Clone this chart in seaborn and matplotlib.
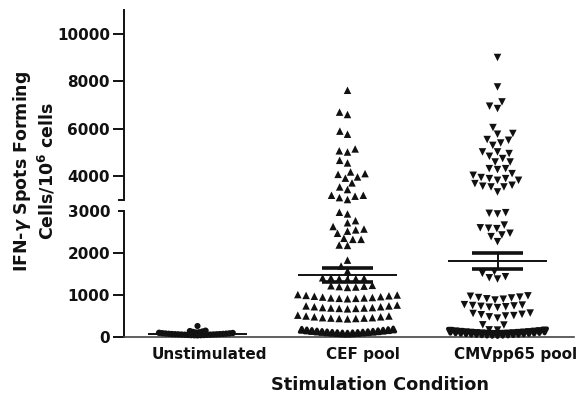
import matplotlib
matplotlib.use("Agg")
import matplotlib.pyplot as plt
import matplotlib.patheffects as pe
import pandas as pd
import seaborn as sns

sns.set_theme(style="ticks")
plt.rcParams['font.family'] = ['DejaVu Sans']
plt.rcParams['font.weight'] = 'bold'

conditions = ["Unstimulated", "CEF pool", "CMVpp65 pool"]

# values (spot forming cells / 10^6 cells)
unstim_main = [262]
unstim_band = [40, 42, 44, 46, 48, 50, 52, 54, 56, 58, 60, 62, 64, 66, 68, 70,
               73, 76, 79, 82, 86, 90, 95, 100, 106, 112, 120, 130, 140, 150]

cef_main = [7620, 6700, 6600, 5900, 5770, 5150, 5070, 5020, 4670, 4560,
            4180, 4110, 4080, 3970, 3920, 3720, 3550, 3440,
            3200, 3200, 3160, 3100, 3020,
            2970, 2930, 2770, 2720, 2630, 2570, 2550, 2520, 2470,
            2350, 2325, 2325, 2190, 2180, 1830, 1690, 1570,
            1410, 1390, 1380, 1400, 1390, 1410,
            1210, 1190, 1200, 1230, 1180, 1220,
            1000, 980, 960, 940, 930, 920, 910, 920, 930, 950, 970, 990, 1010,
            740, 720, 700, 690, 680, 670, 680, 690, 700, 720, 740, 760,
            500, 480, 460, 450, 440, 430, 440, 450, 460, 480, 500, 520]
cef_band = [80, 84, 88, 92, 96, 100, 105, 110, 115, 120, 125, 131, 137, 143,
            150, 157, 164, 172, 180]

cmv_main = [9000, 7760, 7130, 6950, 6850, 6050, 5800, 5770, 5545, 5515,
            5400, 5300, 5025, 5025, 4955, 4840, 4745, 4600, 4600,
            4320, 4320, 4280, 4110, 4040, 3945, 3900, 3900, 3830, 3830,
            3690, 3620, 3580, 3550, 3550, 3340,
            2960, 2945, 2930, 2665, 2600, 2590, 2580, 2470, 2430, 2390, 2270,
            1555, 1515, 1435, 1410, 1380,
            980, 950, 930, 900, 880, 910, 940, 970,
            770, 750, 730, 710, 700, 720, 740, 760,
            570, 540, 510, 480, 450, 500, 530, 560,
            285, 290, 165, 170]
cmv_band = [60, 63, 66, 69, 72, 76, 80, 84, 88, 92, 97, 102, 107, 112, 118,
            124, 130, 137, 145]

means = [70, 1476, 1810]
sems = [6, 165, 190]

markers = {"Unstimulated": "o", "CEF pool": "^", "CMVpp65 pool": "v"}
label_pos = [0.08, 1.10, 2.12]

rows = []
for cond, main, band in [("Unstimulated", unstim_main, unstim_band),
                         ("CEF pool", cef_main, cef_band),
                         ("CMVpp65 pool", cmv_main, cmv_band)]:
    rows += [(cond, v, "main") for v in main]
    rows += [(cond, v, "band") for v in band]
df = pd.DataFrame(rows, columns=["condition", "value", "group"])

ink = "#111111"
fig = plt.figure(figsize=(5.85, 3.96), dpi=100)
left, width = 124 / 585, 450 / 585
ax_lo = fig.add_axes([left, 59 / 396, width, 126 / 396])
ax_hi = fig.add_axes([left, 196 / 396, width, 190 / 396])

BREAK = 3000
for ax, part in [(ax_lo, df[df["value"] <= BREAK]), (ax_hi, df[df["value"] > BREAK])]:
    for cond in conditions:
        for group in ["main", "band"]:
            sub = part[(part["condition"] == cond) & (part["group"] == group)]
            if sub.empty:
                continue
            effects = None
            if group == "main" and cond == "Unstimulated":
                size, lw = 4.4, 0
            elif group == "main":
                size, lw = 5.4, 0.3
            elif cond == "Unstimulated":
                # dense band: small spacing, thick outline so they merge
                size, lw = 2.2, 0
                effects = [pe.Stroke(linewidth=2.4, foreground=ink), pe.Normal()]
            elif cond == "CEF pool":
                size, lw = 3.5, 0
                effects = [pe.Stroke(linewidth=2.2, foreground=ink), pe.Normal()]
            else:
                size, lw = 3.6, 0
                effects = [pe.Stroke(linewidth=2.8, foreground=ink), pe.Normal()]
            kw = {"path_effects": effects} if effects else {}
            sns.swarmplot(data=sub, x="condition", y="value", order=conditions,
                          marker=markers[cond], size=size, color=ink,
                          linewidth=lw, edgecolor="none", clip_on=False,
                          warn_thresh=1, ax=ax, **kw)
    # seaborn leaves empty scatters for the absent categories; unclipped they
    # would draw a marker in the figure corner
    for coll in list(ax.collections):
        if len(coll.get_offsets()) == 0:
            coll.remove()
    ax.set_xlim(-0.49, 2.51)
    ax.set_xlabel("")
    ax.set_ylabel("")

# mean +/- SEM
xs = list(range(len(conditions)))
ax_lo.hlines(means, [x - 0.33 for x in xs], [x + 0.33 for x in xs], color=ink, lw=1.4, zorder=5)
for m, s, x in zip(means, sems, xs):
    ax_lo.hlines([m - s, m + s], x - 0.17, x + 0.17, color=ink, lw=2.6, zorder=5)
    ax_lo.vlines(x, m - s, m + s, color=ink, lw=1.4, zorder=5)

ax_lo.set_ylim(0, 3000)
ax_lo.set_yticks([0, 1000, 2000])
ax_lo.set_yticks([3000], labels=["3000"], minor=True)
ax_hi.set_ylim(3000, 11000)
ax_hi.set_yticks([4000, 6000, 8000, 10000])
ax_hi.set_yticks([3000], labels=[""], minor=True)

for ax in (ax_lo, ax_hi):
    for side in ["top", "right"]:
        ax.spines[side].set_visible(False)
    ax.spines["left"].set_linewidth(1.4)
    ax.spines["left"].set_color(ink)
    ax.tick_params(axis="y", which="major", length=8, width=1.4, pad=2, labelsize=11, colors=ink)
    ax.tick_params(axis="y", which="minor", length=4, width=1.4, pad=6, labelsize=11, colors=ink)
    for lab in ax.get_yticklabels(which="both"):
        lab.set_fontweight("bold")

ax_hi.spines["bottom"].set_visible(False)
ax_hi.set_xticks([])
ax_lo.spines["bottom"].set_linewidth(1.2)
ax_lo.spines["bottom"].set_color("#444444")
ax_lo.set_xticks(label_pos)
ax_lo.set_xticklabels(conditions, fontsize=11, fontweight="bold", color=ink)
ax_lo.tick_params(axis="x", length=0, pad=7)

fig.text(34 / 585, 1 - 171 / 396, "IFN-$\\gamma$ Spots Forming\nCells/10$^{\\mathbf{6}}$ cells",
         rotation=90, ha="center", va="center", fontsize=12.5, fontweight="bold",
         multialignment="center", color=ink)
fig.text(380 / 585, 1 - 385 / 396, "Stimulation Condition", ha="center", va="center",
         fontsize=12.8, fontweight="bold", color=ink)

fig.savefig("out.png", dpi=100)
